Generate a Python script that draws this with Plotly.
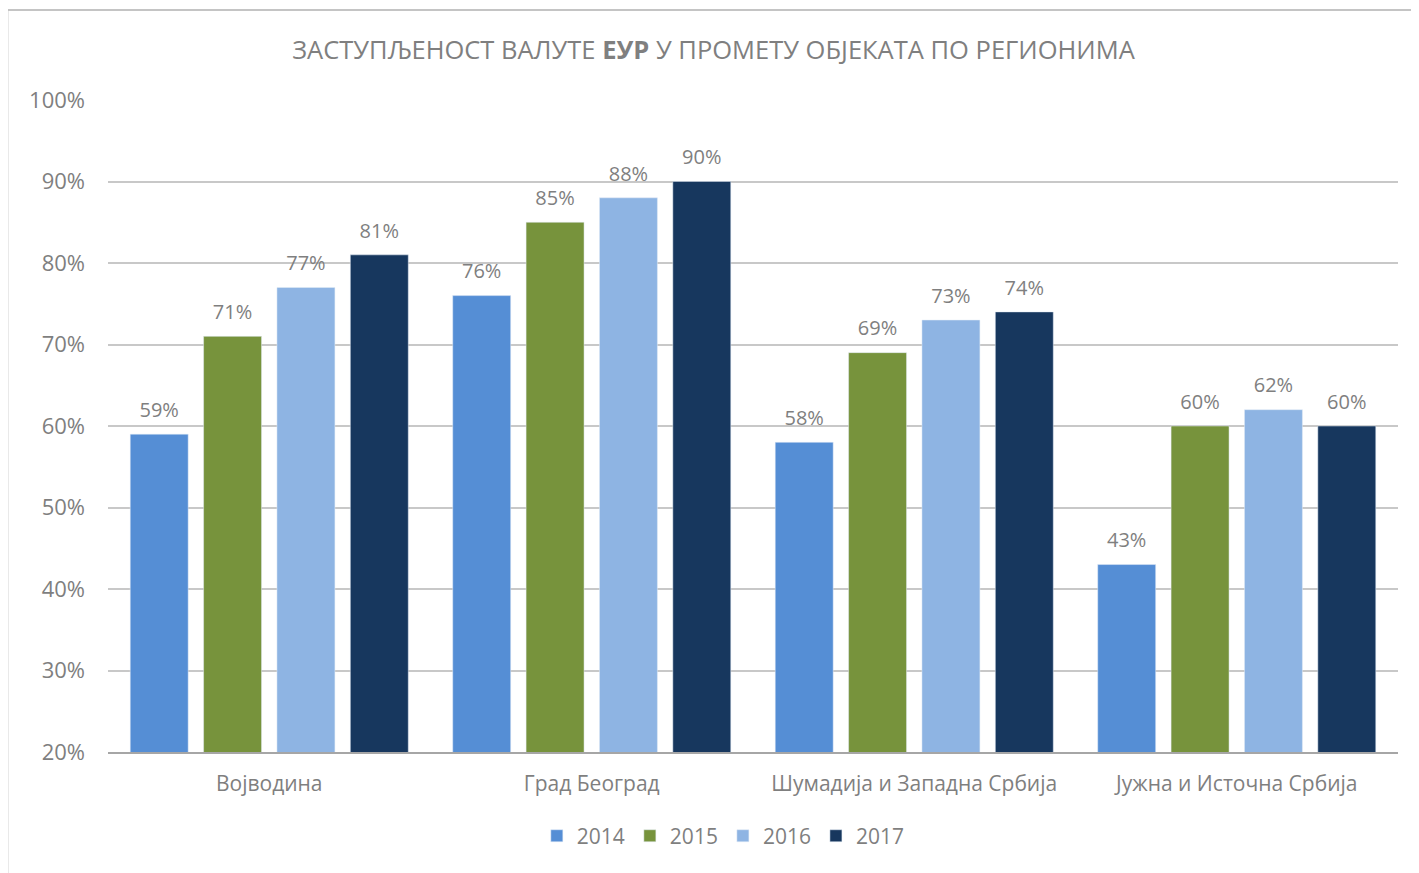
import plotly.graph_objects as go

regions = ["Војводина", "Град Београд", "Шумадија и Западна Србија", "Јужна и Источна Србија"]
years = ["2014", "2015", "2016", "2017"]
v2014 = [59, 76, 58, 43]
v2015 = [71, 85, 69, 60]
v2016 = [77, 88, 73, 62]
v2017 = [81, 90, 74, 60]
colors = ["#558ED5", "#77933C", "#8EB4E3", "#17375E"]
series = [v2014, v2015, v2016, v2017]

FONT = "Open Sans"
GRAY = "#7f7f7f"

fig = go.Figure()
for name, vals, c in zip(years, series, colors):
    fig.add_trace(go.Bar(
        x=regions, y=vals, name=name, marker_color=c,
        offsetgroup=name, alignmentgroup="a",
    ))
for name, vals in zip(years, series):
    fig.add_trace(go.Scatter(
        x=regions, y=vals, name=name, mode="markers+text",
        marker=dict(size=18, color="rgba(0,0,0,0)"),
        text=[f"{v}%" for v in vals], textposition="top center",
        textfont=dict(family=FONT, size=20, color=GRAY),
        offsetgroup=name, alignmentgroup="a",
        showlegend=False, hoverinfo="skip", cliponaxis=False,
    ))

fig.update_layout(
    width=1411, height=865,
    paper_bgcolor="white", plot_bgcolor="white",
    margin=dict(l=100, r=21, t=92, b=121),
    barmode="group", bargap=0.09, bargroupgap=0.21,
    scattermode="group", scattergap=0.09,
    title=dict(text="ЗАСТУПЉЕНОСТ ВАЛУТЕ <b>ЕУР</b> У ПРОМЕТУ ОБЈЕКАТА ПО РЕГИОНИМА",
               x=0.5, xanchor="center", y=(865 - 42) / 865, yanchor="middle",
               font=dict(family=FONT, size=25.5, color=GRAY)),
    font=dict(family=FONT, color=GRAY),
    showlegend=True,
    legend=dict(orientation="h", x=0.477, xanchor="center", y=-0.129, yanchor="middle",
                font=dict(family=FONT, size=21, color=GRAY), traceorder="normal"),
)
fig.update_yaxes(range=[20, 100], dtick=10, ticksuffix="%", showgrid=True,
                 gridcolor="#c8c8c8", gridwidth=1.5, zeroline=False,
                 tickfont=dict(family=FONT, size=22, color=GRAY), ticks="", ticklabelstandoff=22)
fig.update_xaxes(showline=True, linecolor="#a6a6a6", linewidth=2,
                 tickfont=dict(family=FONT, size=21, color=GRAY), ticks="", ticklabelstandoff=12)
fig.add_shape(type="rect", xref="paper", yref="paper",
              x0=-0.078, x1=1.2, y0=-0.5, y1=1.138,
              line=dict(color="#c4c4c4", width=2), fillcolor="rgba(0,0,0,0)", layer="below")

fig.write_html("out.html")
